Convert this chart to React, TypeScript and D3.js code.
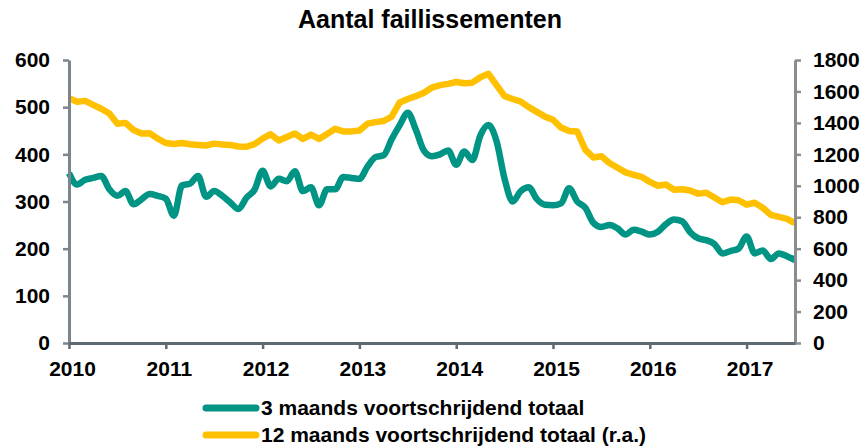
import * as d3 from "d3";
import { useEffect, useRef } from "react";

// maandelijkse waarden, jan 2010 t/m jul 2017
const drieMaands = [
    360, 336, 346, 350, 354, 326, 312, 322, 294, 305, 316, 312,
    306, 270, 334, 338, 354, 310, 322, 312, 298, 284, 308, 325,
    365, 332, 348, 343, 364, 322, 330, 292, 326, 326, 352, 350,
    348, 374, 394, 398, 432, 462, 488, 452, 408, 396, 400, 408,
    378, 406, 388, 440, 462, 428, 348, 300, 322, 330, 305, 293,
    292, 296, 328, 300, 287, 255, 246, 250, 243, 230, 240, 236,
    230, 236, 252, 262, 258, 235, 222, 218, 210, 190, 195, 200,
    226, 190, 196, 178, 190, 184, 176,
];

const twaalfMaands = [
    1556, 1535, 1540, 1515, 1490, 1460, 1395, 1400, 1355, 1332, 1334, 1300,
    1272, 1266, 1272, 1264, 1260, 1256, 1268, 1262, 1260, 1250, 1248, 1265,
    1300, 1328, 1288, 1310, 1332, 1298, 1326, 1298, 1330, 1362, 1346, 1346,
    1352, 1395, 1405, 1412, 1440, 1530, 1552, 1570, 1592, 1625, 1640, 1648,
    1660, 1652, 1656, 1690, 1712, 1640, 1570, 1552, 1535, 1500, 1470, 1440,
    1420, 1370, 1348, 1345, 1230, 1180, 1188, 1145, 1115, 1085, 1070, 1056,
    1025, 1000, 1008, 975, 978, 970, 950, 956, 925, 895, 912, 908,
    880, 892, 860, 815, 802, 790, 762,
];

const jaren = ["2010", "2011", "2012", "2013", "2014", "2015", "2016", "2017"];
const linksTicks = [0, 100, 200, 300, 400, 500, 600];
const rechtsTicks = [0, 200, 400, 600, 800, 1000, 1200, 1400, 1600, 1800];
const legendaLabels = ["3 maands voortschrijdend totaal", "12 maands voortschrijdend totaal (r.a.)"];

export default function App() {
    const svgRef = useRef<SVGSVGElement | null>(null);

    useEffect(() => {
        if (!svgRef.current) return;
        const svg = d3.select(svgRef.current);
        svg.selectAll("*").remove();

        const width = 864;
        const height = 447;
        const left = 69;
        const right = 795;
        const top = 60;
        const bottom = 343;
        const font = "'Liberation Sans', Arial, sans-serif";
        const teal = "#009485";
        const geel = "#FFC000";

        const x = d3.scaleLinear().domain([0, drieMaands.length - 1]).range([left, right]);
        const yL = d3.scaleLinear().domain([0, 600]).range([bottom, top]);
        const yR = d3.scaleLinear().domain([0, 1800]).range([bottom, top]);

        svg.attr("width", width).attr("height", height);

        // titel
        svg.append("text")
            .attr("x", 430)
            .attr("y", 28)
            .attr("text-anchor", "middle")
            .style("font-family", font)
            .style("font-weight", "bold")
            .style("font-size", "25px")
            .text("Aantal faillissementen");

        // lijnen
        const lijnL = d3.line<number>().x((_, i) => x(i)).y((d) => yL(d)).curve(d3.curveMonotoneX);
        const lijnR = d3.line<number>().x((_, i) => x(i)).y((d) => yR(d));

        svg.append("path")
            .datum(twaalfMaands)
            .attr("fill", "none")
            .attr("stroke", geel)
            .attr("stroke-width", 6.5)
            .attr("stroke-linejoin", "round")
            .attr("d", lijnR);

        svg.append("path")
            .datum(drieMaands)
            .attr("fill", "none")
            .attr("stroke", teal)
            .attr("stroke-width", 6.5)
            .attr("stroke-linejoin", "round")
            .attr("d", lijnL);

        // linker as
        const axL = svg.append("g")
            .attr("transform", `translate(${left},0)`)
            .call(d3.axisLeft(yL).tickValues(linksTicks).tickFormat(d3.format("d"))
                .tickSize(6).tickSizeOuter(0).tickPadding(13));
        axL.select(".domain").attr("stroke", "#7b858d").attr("stroke-width", 3);
        axL.selectAll(".tick line").attr("stroke", "#7b858d").attr("stroke-width", 2.5);

        // rechter as
        const axR = svg.append("g")
            .attr("transform", `translate(${right},0)`)
            .call(d3.axisRight(yR).tickValues(rechtsTicks).tickFormat(d3.format("d"))
                .tickSize(6).tickSizeOuter(0).tickPadding(12));
        axR.select(".domain").attr("stroke", "#8c8c8c").attr("stroke-width", 3);
        axR.selectAll(".tick line").attr("stroke", "#8c8c8c").attr("stroke-width", 2.5);

        // x as
        const jaarTicks = jaren.map((_, i) => i * 12);
        const axX = svg.append("g")
            .attr("transform", `translate(0,${bottom})`)
            .call(d3.axisBottom(x).tickValues(jaarTicks).tickSize(6).tickSizeOuter(0)
                .tickFormat((_, i) => jaren[i]).tickPadding(12));
        axX.select(".domain").attr("stroke", "#5d6a72").attr("stroke-width", 3);
        axX.selectAll(".tick line").attr("stroke", "#5d6a72").attr("stroke-width", 2.5);
        axX.selectAll(".tick text").attr("dx", 3);

        svg.selectAll(".tick text")
            .attr("fill", "#000")
            .style("font-family", font)
            .style("font-weight", "bold")
            .style("font-size", "21px");

        // legenda
        const kleuren = [teal, geel];
        const leg = svg.append("g");
        legendaLabels.forEach((label, i) => {
            const ly = 408 + i * 27;
            leg.append("line")
                .attr("x1", 206).attr("x2", 256)
                .attr("y1", ly).attr("y2", ly)
                .attr("stroke", kleuren[i])
                .attr("stroke-width", 7)
                .attr("stroke-linecap", "round");
            leg.append("text")
                .attr("x", 261)
                .attr("y", ly + 7)
                .style("font-family", font)
                .style("font-weight", "bold")
                .style("font-size", "21px")
                .text(label);
        });
    }, []);

    return (
        <svg ref={svgRef} style={{ position: "absolute", left: 0, top: 0, display: "block" }} />
    );
}
